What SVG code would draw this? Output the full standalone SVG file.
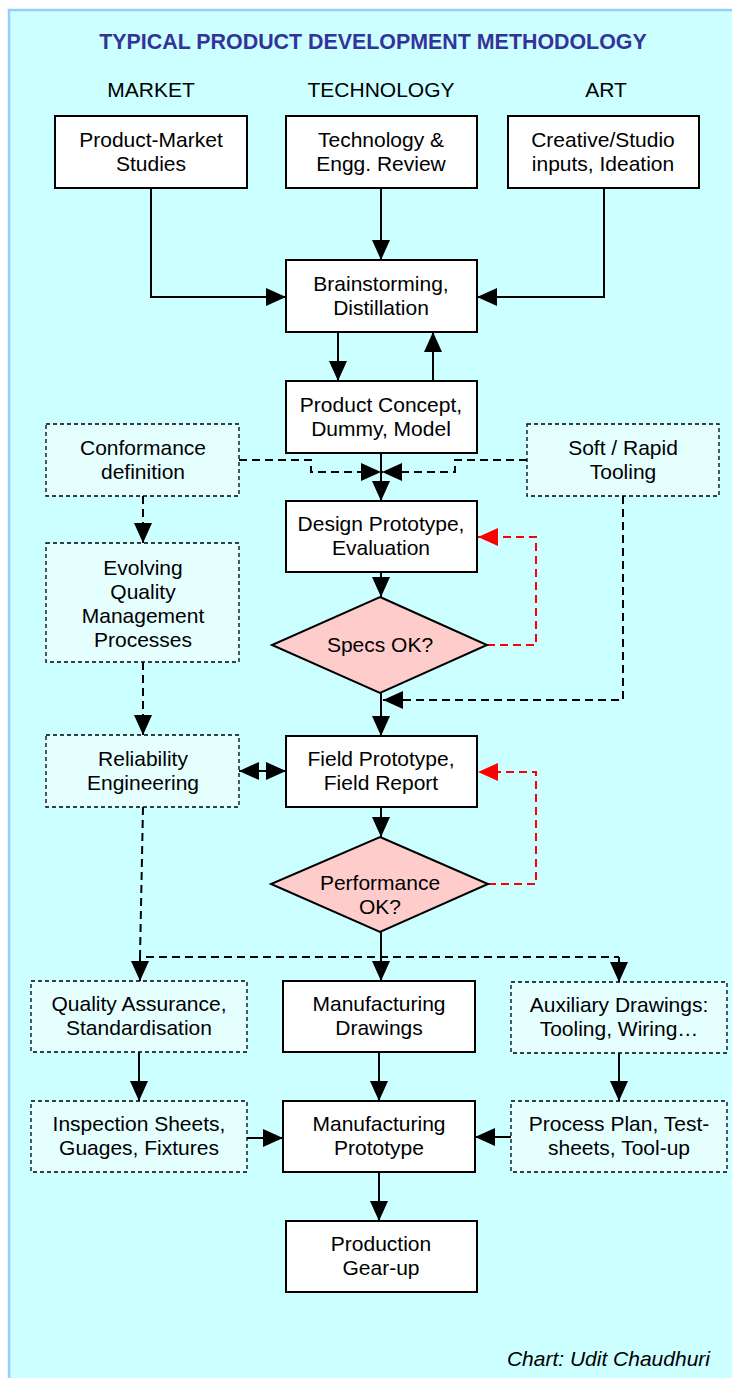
<svg xmlns="http://www.w3.org/2000/svg" width="732" height="1378" viewBox="0 0 732 1378">
<style>
text{font-family:"Liberation Sans",Arial,sans-serif;font-size:21px;fill:#000;text-anchor:middle}
.title{font-weight:bold;fill:#333399;font-size:21.4px}
.credit{font-style:italic;text-anchor:end}
.solid{fill:#fff;stroke:#000;stroke-width:2}
.dash{fill:#E5FFFF;stroke:#000;stroke-width:1.3;stroke-dasharray:4 3}
.dia{fill:#FFCCCC;stroke:#000;stroke-width:2}
.c{fill:none;stroke:#000;stroke-width:2}
.cd{fill:none;stroke:#000;stroke-width:2;stroke-dasharray:8 5}
.cr{fill:none;stroke:#FF0000;stroke-width:2;stroke-dasharray:8 5}
</style>
<defs>
<marker id="ah" markerUnits="userSpaceOnUse" markerWidth="20" markerHeight="20" refX="20" refY="9" orient="auto" viewBox="0 0 20 18">
<path d="M0,0 L20,9 L0,18 Z" fill="#000"/>
</marker>
<marker id="ahr" markerUnits="userSpaceOnUse" markerWidth="20" markerHeight="20" refX="20" refY="9" orient="auto" viewBox="0 0 20 18">
<path d="M0,0 L20,9 L0,18 Z" fill="#FF0000"/>
</marker>
</defs>
<rect x="9" y="10" width="800" height="1500" fill="#CCFFFF" stroke="#99CCFF" stroke-width="2.5"/>
<text class="title" x="373" y="49">TYPICAL PRODUCT DEVELOPMENT METHODOLOGY</text>
<text x="151" y="97">MARKET</text>
<text x="381" y="97">TECHNOLOGY</text>
<text x="606" y="97">ART</text>

<g id="connectors">
<path class="c" d="M151,188 V297 H286" marker-end="url(#ah)"/>
<path class="c" d="M381,188 V260" marker-end="url(#ah)"/>
<path class="c" d="M604,188 V297 H477" marker-end="url(#ah)"/>
<path class="c" d="M338,332 V381" marker-end="url(#ah)"/>
<path class="c" d="M433,381 V332" marker-end="url(#ah)"/>
<path class="c" d="M381,453 V501" marker-end="url(#ah)"/>
<path class="cd" d="M239,460 H311 V472 H381" marker-end="url(#ah)"/>
<path class="cd" d="M527,460 H455 V472 H382" marker-end="url(#ah)"/>
<path class="cd" d="M143,496 V543" marker-end="url(#ah)"/>
<path class="c" d="M381,572 V597" marker-end="url(#ah)"/>
<path class="cr" d="M487,645 H536 V537 H478" marker-end="url(#ahr)"/>
<path class="cd" d="M623,496 V700 H383" marker-end="url(#ah)"/>
<path class="c" d="M381,693 V736" marker-end="url(#ah)"/>
<path class="cd" d="M143,662 V735" marker-end="url(#ah)"/>
<path class="c" d="M262,771 H239" marker-end="url(#ah)"/>
<path class="c" d="M262,771 H286" marker-end="url(#ah)"/>
<path class="c" d="M381,807 V837" marker-end="url(#ah)"/>
<path class="cr" d="M488,884 H536 V772 H478" marker-end="url(#ahr)"/>
<path class="c" d="M381,932 V981" marker-end="url(#ah)"/>
<path class="cd" d="M143,807 L140,957 H619"/>
<path class="c" d="M140,957 V981" marker-end="url(#ah)"/>
<path class="c" d="M619,957 V982" marker-end="url(#ah)"/>
<path class="c" d="M139,1052 V1101" marker-end="url(#ah)"/>
<path class="c" d="M379,1052 V1101" marker-end="url(#ah)"/>
<path class="c" d="M619,1052 V1101" marker-end="url(#ah)"/>
<path class="c" d="M247,1138 H283" marker-end="url(#ah)"/>
<path class="c" d="M511,1137 H475" marker-end="url(#ah)"/>
<path class="c" d="M379,1172 V1221" marker-end="url(#ah)"/>
</g>

<g id="market"><rect class="solid" x="55" y="116" width="192" height="72"/><text x="151" y="147">Product-Market</text><text x="151" y="171">Studies</text></g>
<g id="tech"><rect class="solid" x="286" y="116" width="191" height="72"/><text x="381" y="147">Technology &amp;</text><text x="381" y="171">Engg. Review</text></g>
<g id="art"><rect class="solid" x="508" y="116" width="191" height="72"/><text x="603" y="147">Creative/Studio</text><text x="603" y="171">inputs, Ideation</text></g>
<g id="brainstorm"><rect class="solid" x="286" y="260" width="191" height="72"/><text x="381" y="291">Brainstorming,</text><text x="381" y="315">Distillation</text></g>
<g id="concept"><rect class="solid" x="286" y="381" width="191" height="72"/><text x="381" y="412">Product Concept,</text><text x="381" y="436">Dummy, Model</text></g>
<g id="conformance"><rect class="dash" x="46" y="424" width="193" height="72"/><text x="143" y="455">Conformance</text><text x="143" y="479">definition</text></g>
<g id="tooling"><rect class="dash" x="527" y="424" width="192" height="72"/><text x="623" y="455">Soft / Rapid</text><text x="623" y="479">Tooling</text></g>
<g id="design"><rect class="solid" x="286" y="501" width="191" height="71"/><text x="381" y="531">Design Prototype,</text><text x="381" y="555">Evaluation</text></g>
<g id="specs"><polygon class="dia" points="380,597 487,645 380,693 272,645"/><text x="380" y="652">Specs OK?</text></g>
<g id="evolving"><rect class="dash" x="46" y="543" width="193" height="119"/><text x="143" y="575">Evolving</text><text x="143" y="599">Quality</text><text x="143" y="623">Management</text><text x="143" y="647">Processes</text></g>
<g id="reliability"><rect class="dash" x="46" y="735" width="193" height="72"/><text x="143" y="766">Reliability</text><text x="143" y="790">Engineering</text></g>
<g id="field"><rect class="solid" x="286" y="736" width="191" height="71"/><text x="381" y="766">Field Prototype,</text><text x="381" y="790">Field Report</text></g>
<g id="performance"><polygon class="dia" points="380,837 488,884 380,932 271,884"/><text x="380" y="890">Performance</text><text x="380" y="914">OK?</text></g>
<g id="qa"><rect class="dash" x="31" y="981" width="216" height="71"/><text x="139" y="1011">Quality Assurance,</text><text x="139" y="1035">Standardisation</text></g>
<g id="mfgdrawings"><rect class="solid" x="283" y="981" width="192" height="71"/><text x="379" y="1011">Manufacturing</text><text x="379" y="1035">Drawings</text></g>
<g id="auxiliary"><rect class="dash" x="511" y="982" width="216" height="71"/><text x="619" y="1012">Auxiliary Drawings:</text><text x="619" y="1036">Tooling, Wiring…</text></g>
<g id="inspection"><rect class="dash" x="31" y="1101" width="216" height="71"/><text x="139" y="1131">Inspection Sheets,</text><text x="139" y="1155">Guages, Fixtures</text></g>
<g id="mfgprototype"><rect class="solid" x="283" y="1101" width="192" height="71"/><text x="379" y="1131">Manufacturing</text><text x="379" y="1155">Prototype</text></g>
<g id="processplan"><rect class="dash" x="511" y="1101" width="216" height="71"/><text x="619" y="1131">Process Plan, Test-</text><text x="619" y="1155">sheets, Tool-up</text></g>
<g id="production"><rect class="solid" x="286" y="1221" width="191" height="71"/><text x="381" y="1251">Production</text><text x="381" y="1275">Gear-up</text></g>
<text class="credit" x="710" y="1366">Chart: Udit Chaudhuri</text>
</svg>
